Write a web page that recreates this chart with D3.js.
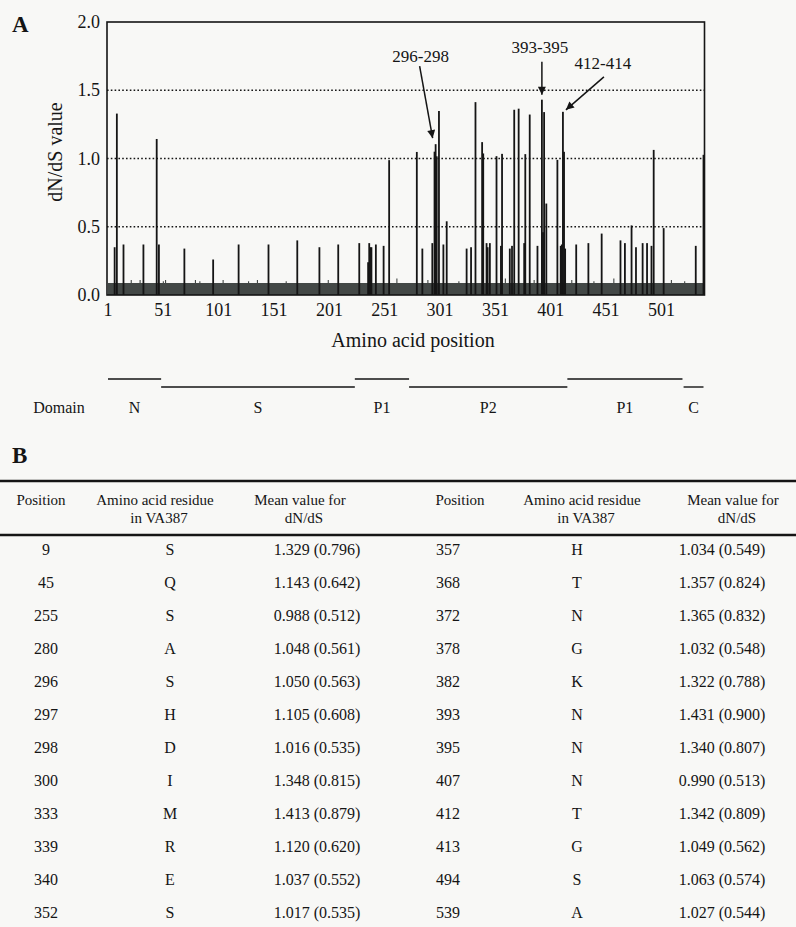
<!DOCTYPE html>
<html>
<head>
<meta charset="utf-8">
<script src="https://cdn.jsdelivr.net/npm/d3@7"></script>
<style>
  body { margin: 0; background: #f8f8f6; }
  svg { display: block; font-family: "Liberation Serif", "Times New Roman", serif; }
</style>
</head>
<body>
<svg id="fig" width="796" height="927"></svg>
<script>
// Panel A: dN/dS per amino acid position (VA387 VP1)
// spikes that are not in the table of panel B
const spikePos = [7, 15, 33, 47, 70, 96, 119, 146, 172, 192, 209, 228, 236, 237, 238, 239, 243, 250,
  285, 294, 304, 307, 325, 329, 343, 344, 346, 356, 364, 366, 377, 389, 394, 397, 410, 411, 414,
  424, 435, 447, 464, 468, 474, 478, 484, 488, 492, 503, 532];
const spikeVal = [0.35, 0.37, 0.37, 0.37, 0.34, 0.26, 0.37, 0.37, 0.40, 0.35, 0.37, 0.38, 0.24, 0.38, 0.35, 0.35, 0.37, 0.36,
  0.34, 0.38, 0.37, 0.54, 0.34, 0.35, 0.38, 0.35, 0.38, 0.36, 0.34, 0.36, 0.38, 0.36, 0.46, 0.67, 0.36, 0.37, 0.34,
  0.37, 0.38, 0.45, 0.40, 0.38, 0.51, 0.35, 0.38, 0.38, 0.36, 0.49, 0.36];
// small bumps on top of the background band
const bumpPos = [22, 30, 51, 53, 80, 84, 105, 128, 136, 162, 200, 262, 290, 318, 360, 386, 420, 440, 458, 510, 522];
const bumpVal = [0.11, 0.11, 0.10, 0.11, 0.11, 0.10, 0.11, 0.10, 0.11, 0.10, 0.11, 0.12, 0.11, 0.10, 0.12, 0.11, 0.11, 0.10, 0.12, 0.11, 0.10];
const baseVal = 0.088;
const nPos = 539;

const xTicks = [1, 51, 101, 151, 201, 251, 301, 351, 401, 451, 501];
const yTicks = [0, 0.5, 1.0, 1.5, 2.0];

const domNames = ["N", "S", "P1", "P2", "P1", "C"];
const domStart = [1, 49, 224, 273, 416, 521];
const domEnd = [49, 224, 273, 416, 520, 539];

const annText = ["296-298", "393-395", "412-414"];
const annPos = [297, 393, 412];

// Panel B: table
const posL = [9, 45, 255, 280, 296, 297, 298, 300, 333, 339, 340, 352];
const resL = ["S", "Q", "S", "A", "S", "H", "D", "I", "M", "R", "E", "S"];
const meanL = [1.329, 1.143, 0.988, 1.048, 1.050, 1.105, 1.016, 1.348, 1.413, 1.120, 1.037, 1.017];
const sdL = [0.796, 0.642, 0.512, 0.561, 0.563, 0.608, 0.535, 0.815, 0.879, 0.620, 0.552, 0.535];
const posR = [357, 368, 372, 378, 382, 393, 395, 407, 412, 413, 494, 539];
const resR = ["H", "T", "N", "G", "K", "N", "N", "N", "T", "G", "S", "A"];
const meanR = [1.034, 1.357, 1.365, 1.032, 1.322, 1.431, 1.340, 0.990, 1.342, 1.049, 1.063, 1.027];
const sdR = [0.549, 0.824, 0.832, 0.548, 0.788, 0.900, 0.807, 0.513, 0.809, 0.562, 0.574, 0.544];

const svg = d3.select("#fig");
const ink = "#151515";

const x = d3.scaleLinear().domain([1, nPos]).range([108, 703.5]);
const y = d3.scaleLinear().domain([0, 2]).range([295, 22]);

const g = svg.append("g");

// background band
const band = d3.range(1, nPos + 1).map(p => {
  const i = bumpPos.indexOf(p);
  return { p, v: i >= 0 ? bumpVal[i] : baseVal };
});
g.append("path")
  .datum(band)
  .attr("fill", "#434846")
  .attr("d", d3.area().curve(d3.curveStep)
    .x(d => x(d.p)).y0(y(0)).y1(d => y(d.v)));

// dotted grid
g.selectAll(".grid").data(yTicks.filter(v => v > 0 && v < 2)).enter().append("line")
  .attr("x1", x.range()[0] - 1).attr("x2", x.range()[1] + 1)
  .attr("y1", d => y(d)).attr("y2", d => y(d))
  .attr("stroke", ink).attr("stroke-width", 1.6).attr("stroke-dasharray", "1.6,2.2");

// spikes
const spikes = spikePos.map((p, i) => ({ p, v: spikeVal[i] }))
  .concat(posL.map((p, i) => ({ p, v: meanL[i] })))
  .concat(posR.map((p, i) => ({ p, v: meanR[i] })));
g.selectAll(".spike").data(spikes).enter().append("rect")
  .attr("x", d => x(d.p) - 0.9).attr("width", 1.8)
  .attr("y", d => y(d.v)).attr("height", d => y(0) - y(d.v))
  .attr("fill", ink);

// frame
g.append("rect")
  .attr("x", x.range()[0] - 1).attr("y", y(2))
  .attr("width", x.range()[1] - x.range()[0] + 2).attr("height", y(0) - y(2))
  .attr("fill", "none").attr("stroke", ink).attr("stroke-width", 1.6);

// y tick labels
g.selectAll(".ytl").data(yTicks).enter().append("text")
  .attr("x", 100).attr("y", d => y(d) + 6)
  .attr("text-anchor", "end").attr("font-size", "18px").attr("fill", ink)
  .text(d3.format(".1f"));

// x tick labels
g.selectAll(".xtl").data(xTicks).enter().append("text")
  .attr("x", d => x(d)).attr("y", 316)
  .attr("text-anchor", "middle").attr("font-size", "18px").attr("fill", ink)
  .text(d => d);

// axis titles
g.append("text").attr("x", 413).attr("y", 347).attr("text-anchor", "middle")
  .attr("font-size", "20px").attr("fill", ink).text("Amino acid position");
g.append("text").attr("transform", "translate(62,152) rotate(-90)").attr("text-anchor", "middle")
  .attr("font-size", "20px").attr("fill", ink).text("dN/dS value");

// panel letters
svg.append("text").attr("x", 12).attr("y", 32).attr("font-size", "23px").attr("font-weight", "bold")
  .attr("fill", ink).text("A");
svg.append("text").attr("x", 12).attr("y", 463).attr("font-size", "23px").attr("font-weight", "bold")
  .attr("fill", ink).text("B");

// annotations
svg.append("defs").append("marker")
  .attr("id", "ah").attr("viewBox", "0 0 10 10").attr("refX", 10).attr("refY", 5)
  .attr("markerWidth", 9).attr("markerHeight", 8).attr("markerUnits", "userSpaceOnUse").attr("orient", "auto")
  .append("path").attr("d", "M0,0 L10,5 L0,10 Z").attr("fill", ink);

const annTip = [[-3, -6], [0, -5], [3, -2]];
const annTail = [[-13, -72], [0, -33], [38, -33]];
const annLbl = [[-12, -76], [-2, -42], [37, -41]];
annPos.forEach((p, i) => {
  const v = spikes.find(s => s.p === p).v;
  const tx = x(p) + annTip[i][0], ty = y(v) + annTip[i][1];
  svg.append("line")
    .attr("x1", tx + annTail[i][0]).attr("y1", ty + annTail[i][1])
    .attr("x2", tx).attr("y2", ty)
    .attr("stroke", ink).attr("stroke-width", 1.5).attr("marker-end", "url(#ah)");
  svg.append("text").attr("x", tx + annLbl[i][0]).attr("y", ty + annLbl[i][1])
    .attr("text-anchor", "middle").attr("font-size", "17px").attr("fill", ink).text(annText[i]);
});

// domain bar
svg.append("text").attr("x", 59).attr("y", 413).attr("text-anchor", "middle")
  .attr("font-size", "16px").attr("fill", ink).text("Domain");
domNames.forEach((n, i) => {
  const ly = i % 2 === 0 ? 379 : 387;
  svg.append("line")
    .attr("x1", x(domStart[i])).attr("x2", x(domEnd[i]))
    .attr("y1", ly).attr("y2", ly)
    .attr("stroke", ink).attr("stroke-width", 1.4);
  svg.append("text").attr("x", (x(domStart[i]) + x(domEnd[i])) / 2).attr("y", 413)
    .attr("text-anchor", "middle").attr("font-size", "16px").attr("fill", ink).text(n);
});

// table
const t = svg.append("g").attr("font-size", "16px").attr("fill", ink);
[481, 535].forEach(ry => {
  t.append("line").attr("x1", 0).attr("x2", 796).attr("y1", ry).attr("y2", ry)
    .attr("stroke", ink).attr("stroke-width", 2.6);
});
const head1 = ["Position", "Amino acid residue", "Mean value for", "Position", "Amino acid residue", "Mean value for"];
const head2 = ["", "in VA387", "dN/dS", "", "in VA387", "dN/dS"];
const headX = [41, 155, 300, 460, 582, 733];
head1.forEach((h, i) => {
  t.append("text").attr("x", headX[i]).attr("y", 505).attr("text-anchor", "middle")
    .attr("font-size", "15px").text(h);
  if (head2[i]) t.append("text").attr("x", headX[i] + 4).attr("y", 523).attr("text-anchor", "middle")
    .attr("font-size", "15px").text(head2[i]);
});

const row = d3.scaleLinear().domain([0, posL.length - 1]).range([555, 918]);
const f3 = d3.format(".3f");
const colX = [46, 170, 317, 448, 577, 722];
posL.forEach((p, i) => {
  const cells = [p, resL[i], f3(meanL[i]) + " (" + f3(sdL[i]) + ")",
    posR[i], resR[i], f3(meanR[i]) + " (" + f3(sdR[i]) + ")"];
  cells.forEach((c, j) => {
    t.append("text").attr("x", colX[j]).attr("y", row(i)).attr("text-anchor", "middle").text(c);
  });
});
</script>
</body>
</html>
